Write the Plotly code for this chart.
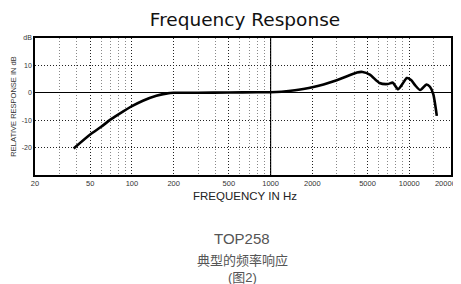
import plotly.graph_objects as go
import numpy as np

# Curve data
freq_hz = [38, 50, 60, 70, 80, 100, 120, 150, 180, 200, 300, 500, 800, 1000,
           1200, 1500, 2000, 3000, 4200, 4600, 5200, 6100, 7000, 7600, 8300,
           9000, 9600, 10300, 11000, 12000, 13300, 14100, 14900, 15800]
response_db = [-20.3, -15.2, -12.4, -9.8, -7.9, -4.9, -2.9, -1.1, -0.2, 0.0,
               0.0, 0.1, 0.2, 0.2, 0.4, 0.9, 2.0, 4.6, 7.4, 7.6, 6.6, 3.6,
               3.2, 3.7, 1.3, 3.5, 5.4, 4.7, 2.8, 1.0, 3.0, 2.2, -0.5, -8.4]

# Axis ticks
x_tickvals = [20, 50, 100, 200, 500, 1000, 2000, 5000, 10000, 20000]
x_ticktext = ["20", "50", "100", "200", "500", "1000", "2000", "5000", "10000", "20000 Hz"]
x_minor = [30, 40, 60, 70, 80, 90, 300, 400, 600, 700, 800, 900,
           3000, 4000, 6000, 7000, 8000, 9000, 15000]
y_tickvals = [-20, -10, 0, 10, 20]
y_ticktext = ["-20", "-10", "0", "10", "dB"]

FONT = "Liberation Sans, Arial, Noto Sans CJK SC, sans-serif"

# The page body adds an 8px offset; work in window pixels and convert.
OFF = 8
FW, FH = 461, 284
plot_left, plot_right = 35 - OFF, 451 - OFF
plot_top, plot_bot = 38 - OFF, 175 - OFF
H = plot_bot - plot_top
W = plot_right - plot_left

def py(ywin):
    return (plot_bot - (ywin - OFF)) / H

def px(xwin):
    return ((xwin - OFF) - plot_left) / W

DOT = "1px,2px"

fig = go.Figure()
fig.add_trace(go.Scatter(
    x=freq_hz, y=response_db, mode="lines",
    line=dict(color="black", width=2.6, shape="spline", smoothing=0.6),
    hoverinfo="skip", showlegend=False))

fig.add_vline(x=1000, line=dict(color="black", width=1.2), layer="below")

fig.update_layout(
    width=FW, height=FH,
    margin=dict(l=plot_left, r=FW - plot_right, t=plot_top, b=FH - plot_bot,
                autoexpand=False),
    paper_bgcolor="white", plot_bgcolor="white",
    font=dict(family=FONT, color="#222"),
    title=dict(text="Frequency Response", x=(245 - OFF) / FW, xref="container",
               xanchor="center", y=1 - (20 - OFF) / FH, yref="container",
               yanchor="middle",
               font=dict(family="DejaVu Sans, " + FONT, size=18.5, color="#111")),
    xaxis=dict(type="log", range=[np.log10(20), np.log10(20000)],
               tickvals=x_tickvals, ticktext=x_ticktext, ticks="",
               tickfont=dict(size=7.5, color="#333"), automargin=False,
               showgrid=True, gridcolor="#222", griddash=DOT, gridwidth=1,
               minor=dict(tickvals=x_minor, showgrid=True, gridcolor="#888",
                          griddash=DOT, gridwidth=1, ticks=""),
               showline=True, linecolor="black", linewidth=1.5, mirror=True,
               zeroline=False),
    yaxis=dict(range=[-30, 20], tickvals=y_tickvals, ticktext=y_ticktext,
               ticks="", tickfont=dict(size=7, color="#333"), automargin=False,
               showgrid=True, gridcolor="#222", griddash=DOT, gridwidth=1,
               zeroline=True, zerolinecolor="black", zerolinewidth=1.3,
               showline=True, linecolor="black", linewidth=1.5, mirror=True,
               title=dict(text="RELATIVE RESPONSE IN dB", standoff=4,
                          font=dict(size=7.5, color="#333"))),
    annotations=[
        dict(text="FREQUENCY IN Hz", x=px(245), y=py(196),
             xref="paper", yref="paper", showarrow=False,
             xanchor="center", yanchor="middle",
             font=dict(size=11.5, color="#222")),
        dict(text="TOP258", x=px(242), y=py(239),
             xref="paper", yref="paper", showarrow=False,
             xanchor="center", yanchor="middle",
             font=dict(size=15, color="#555")),
        dict(text="典型的频率响应", x=px(242), y=py(259),
             xref="paper", yref="paper", showarrow=False,
             xanchor="center", yanchor="middle",
             font=dict(family="Noto Sans CJK SC", size=13, color="#555")),
        dict(text="(图2)", x=px(242), y=py(277),
             xref="paper", yref="paper", showarrow=False,
             xanchor="center", yanchor="middle",
             font=dict(family="Liberation Sans, Noto Sans CJK SC", size=13, color="#555")),
    ],
)

fig.write_html("out.html")
